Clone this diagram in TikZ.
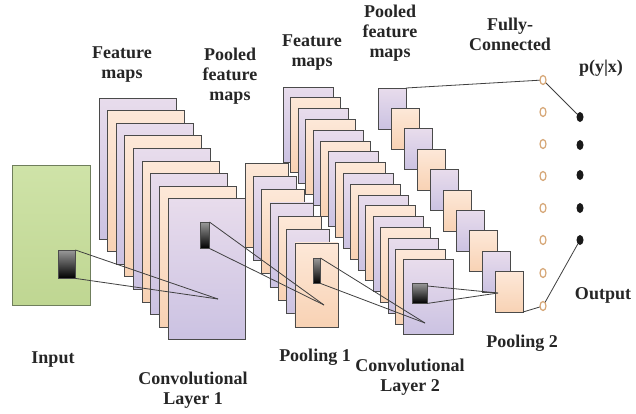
\documentclass[tikz,border=0pt]{standalone}
\usepackage{fontspec}
\setmainfont{Liberation Serif}
\usetikzlibrary{shapes.geometric}
\definecolor{lavT}{HTML}{E8DCEC}
\definecolor{lavB}{HTML}{CBC2E2}
\definecolor{pchT}{HTML}{FDE8D8}
\definecolor{pchB}{HTML}{F8D2B4}
\definecolor{grnT}{HTML}{CFE3A8}
\definecolor{grnB}{HTML}{BFD692}
\definecolor{grnE}{HTML}{6F7E5C}
\definecolor{edge}{HTML}{4A4A4A}
\definecolor{ring}{HTML}{D6A676}
\begin{document}
\begin{tikzpicture}[x=1pt,y=-1pt,
  lav/.style={draw=edge, line width=0.9pt, top color=lavT, bottom color=lavB},
  pch/.style={draw=edge, line width=0.9pt, top color=pchT, bottom color=pchB},
  kern/.style={draw=black!70, line width=0.4pt, top color=black!40, bottom color=black, inner sep=0pt, anchor=north west},
  link/.style={draw=black!75, line width=0.8pt},
  lbl/.style={font=\fontsize{18}{20}\selectfont\bfseries, text=black!85, align=center, inner sep=0pt},
  fc/.style={ellipse, draw=ring, line width=1.2pt, fill=white, minimum width=6pt, minimum height=9pt, inner sep=0pt},
  outn/.style={ellipse, fill=black!90, minimum width=7pt, minimum height=10pt, inner sep=0pt}]
\useasboundingbox (0,0) rectangle (636,413);
\fill[white] (0,0) rectangle (636,413);

% input
\path[draw=grnE, line width=1pt, top color=grnT, bottom color=grnB] (12,165) rectangle (90,305);

% conv 2 stack
\foreach \i in {0,...,16}{
  \pgfmathsetmacro\xx{283+7.5*\i}
  \pgfmathsetmacro\yy{87+10.8*\i}
  \pgfmathtruncatemacro\m{mod(\i,2)}
  \ifnum\m=0 \path[lav] (\xx,\yy) rectangle ++(50,75);
  \else \path[pch] (\xx,\yy) rectangle ++(50,75); \fi
}
% pool 2 stack
\foreach \i in {0,...,9}{
  \pgfmathsetmacro\xx{378+13*\i}
  \pgfmathsetmacro\yy{88+20.4*\i}
  \pgfmathtruncatemacro\m{mod(\i,2)}
  \ifnum\m=0 \path[lav] (\xx,\yy) rectangle ++(28,41);
  \else \path[pch] (\xx,\yy) rectangle ++(28,41); \fi
}
% pool 1 stack
\foreach \i in {0,...,6}{
  \pgfmathsetmacro\xx{245+8.33*\i}
  \pgfmathsetmacro\yy{163+13.33*\i}
  \pgfmathtruncatemacro\m{mod(\i,2)}
  \ifnum\m=0 \path[pch] (\xx,\yy) rectangle ++(43,84);
  \else \path[lav] (\xx,\yy) rectangle ++(43,84); \fi
}
% conv 1 stack
\foreach \i in {0,...,8}{
  \pgfmathsetmacro\xx{99+8.625*\i}
  \pgfmathsetmacro\yy{98+12.6*\i}
  \pgfmathtruncatemacro\m{mod(\i,2)}
  \ifnum\m=0 \path[lav] (\xx,\yy) rectangle ++(77,141);
  \else \path[pch] (\xx,\yy) rectangle ++(77,141); \fi
}

% kernels
\node[kern, minimum width=17pt, minimum height=28pt] (k0) at (58,250) {};
\node[kern, minimum width=9pt, minimum height=26pt] (k1) at (200,222) {};
\node[kern, minimum width=7pt, minimum height=25pt] (k2) at (313,258) {};
\node[kern, minimum width=15pt, minimum height=20pt] (k3) at (412,283) {};

\coordinate (c1) at (218,299);
\coordinate (c2) at (324,305);
\coordinate (c3) at (425,323);
\coordinate (c4) at (498,293);
\coordinate (q0) at (406,88);
\coordinate (q9) at (523,312);

\draw[link] (k0.north east) -- (c1);
\draw[link] (k0.south east) -- (c1);
\draw[link] (k1.north east) -- (c2);
\draw[link] (k1.south east) -- (c2);
\draw[link] (k2.north east) -- (c3);
\draw[link] (k2.south east) -- (c3);
\draw[link] ([yshift=-3pt]k3.north east) -- (c4);
\draw[link] (k3.south east) -- (c4);

% fully connected
\foreach \j [count=\n] in {80,112,144,176,208,240,273,306}{
  \coordinate (f\n) at (543,\j);
}
\foreach \j [count=\n] in {117,145,175,208,240}{
  \node[outn] (o\n) at (580,\j) {};
}
\draw[link] (q0) -- (f1) -- (o1);
\draw[link] (q9) -- (f8) -- (o5);
\foreach \n in {1,...,8}{
  \node[fc] at (f\n) {};
}

% labels
\node[lbl] (l1) at (122,65) {Feature\\maps};
\node[lbl] (l2) at (230,76) {Pooled\\feature\\maps};
\node[lbl] (l3) at (312,53) {Feature\\maps};
\node[lbl] (l4) at (390,33) {Pooled\\feature\\maps};
\node[lbl] (l5) at (510,34) {Fully-\\Connected};
\node[lbl] (l6) at (601,68) {p(y|x)};
\node[lbl] (l7) at (603,295) {Output};
\node[lbl] (l8) at (522,343) {Pooling 2};
\node[lbl] (l9) at (410,377) {Convolutional\\Layer 2};
\node[lbl] (l10) at (315,357) {Pooling 1};
\node[lbl] (l11) at (193,390) {Convolutional\\Layer 1};
\node[lbl] (l12) at (53,360) {Input};
\end{tikzpicture}
\end{document}
